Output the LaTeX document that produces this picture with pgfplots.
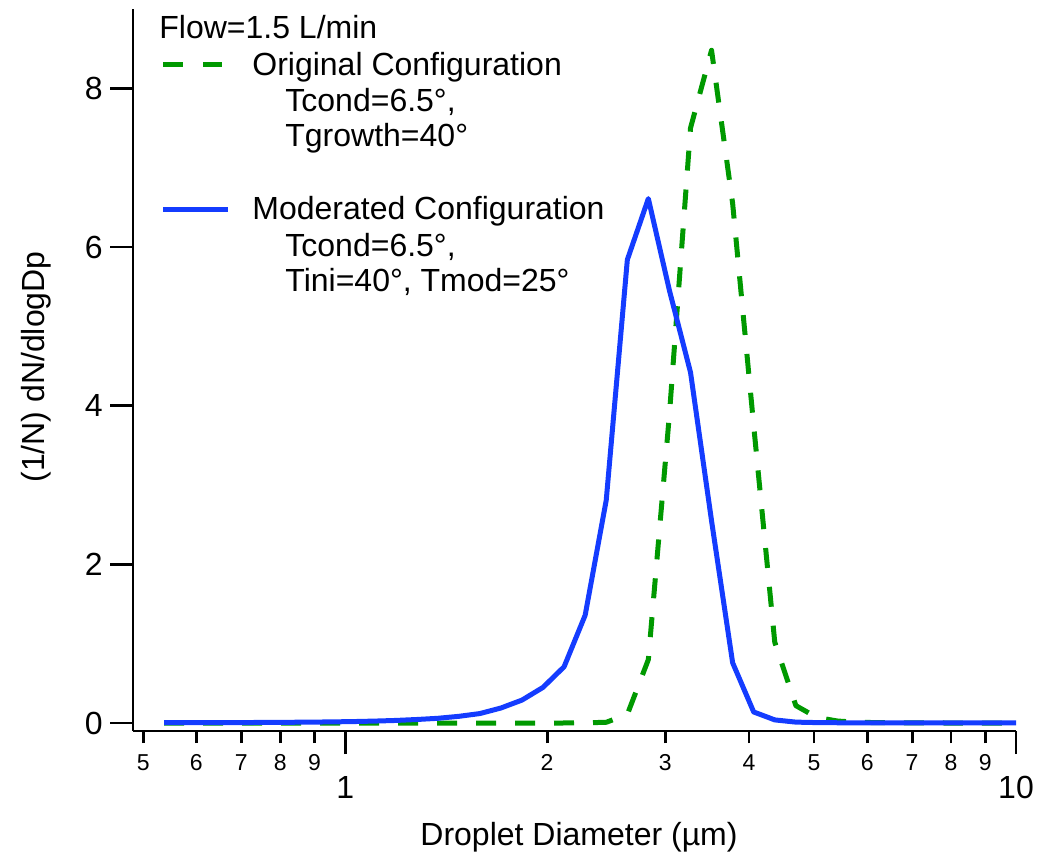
\documentclass[border=0pt]{standalone}
\usepackage{fontspec}
\setmainfont{Liberation Sans}
\usepackage{pgfplots}
\pgfplotsset{compat=1.18}
\definecolor{myblue}{RGB}{20,60,255}
\definecolor{mygreen}{RGB}{0,153,0}
\newcommand{\fsL}{\fontsize{16pt}{19pt}\selectfont}
\newcommand{\fsS}{\fontsize{11.5pt}{13pt}\selectfont}
\begin{document}
\begin{tikzpicture}
\useasboundingbox (-66.5pt,-60.5pt) rectangle (454.5pt,365.5pt);
\begin{axis}[
  at={(0pt,0pt)}, anchor=south west,
  scale only axis, width=441.5pt, height=361pt,
  xmode=log, xmin=0.4827, xmax=10, ymin=-0.1, ymax=9,
  axis x line=bottom, axis y line=left,
  axis line style={-, line width=1.4pt},
  tick style={line width=1.4pt, black},
  tick align=outside,
  major tick length=11.5pt, minor tick length=6pt,
  xtick={1,10}, xticklabels={1,10},
  minor xtick={},
  extra x ticks={0.5,0.6,0.7,0.8,0.9,2,3,4,5,6,7,8,9},
  extra x tick labels={5,6,7,8,9,2,3,4,5,6,7,8,9},
  extra x tick style={major tick length=6pt, xticklabel style={font=\fsS, yshift=5.5pt}},
  xticklabel style={font=\fsL, inner sep=0pt, anchor=north, yshift=-11pt},
  ytick={0,2,4,6,8}, yticklabels={0,2,4,6,8},
  yticklabel style={font=\fsL, inner sep=0pt, anchor=east, xshift=-3.5pt},
  clip=false,
]
\addplot[mygreen, line width=2.5pt, dash pattern=on 10pt off 9.5pt, line join=round] coordinates {
(0.5369,0) (0.5769,0) (0.6203,0) (0.6668,0) (0.7168,0) (0.7706,0) (0.8284,0)
(0.8905,0) (0.9572,0) (1.029,0) (1.106,0) (1.189,0) (1.278,0) (1.374,0)
(1.477,0) (1.588,0) (1.707,0) (1.835,0) (1.972,0) (2.120,0.001) (2.279,0.003)
(2.450,0.01) (2.634,0.11) (2.831,0.80) (3.044,3.9) (3.272,7.5) (3.517,8.48)
(3.781,6.55) (4.064,3.75) (4.369,1.02) (4.697,0.22) (5.049,0.07) (5.428,0.025)
(5.834,0.01) (6.272,0.005) (6.742,0.003) (7.248,0.002) (7.791,0.001) (8.375,0)
(9.003,0) (9.678,0) (10,0)
};
\addplot[myblue, line width=2.5pt, line join=round] coordinates {
(0.5369,0.005) (0.5769,0.005) (0.6203,0.006) (0.6668,0.006) (0.7168,0.007)
(0.7706,0.008) (0.8284,0.010) (0.8905,0.012) (0.9572,0.015) (1.029,0.019)
(1.106,0.025) (1.189,0.033) (1.278,0.045) (1.374,0.060) (1.477,0.085)
(1.588,0.12) (1.707,0.19) (1.835,0.29) (1.972,0.45) (2.120,0.71) (2.279,1.36)
(2.450,2.81) (2.634,5.84) (2.831,6.61) (3.044,5.45) (3.272,4.42) (3.517,2.55)
(3.781,0.76) (4.064,0.14) (4.369,0.04) (4.697,0.012) (5.049,0.006) (5.428,0.004)
(5.834,0.003) (6.272,0.003) (6.742,0.003) (7.248,0.003) (7.791,0.003)
(8.375,0.003) (9.003,0.003) (9.678,0.003) (10,0.003)
};
\end{axis}
% axis labels
\node[font=\fsL, anchor=base, inner sep=0pt] at (223pt,-57pt) {Droplet Diameter (µm)};
\node[font=\fsL, rotate=90, anchor=center, inner sep=0pt] at (-48.5pt,182pt) {(1/N) dN/dlogDp};
% legend
\node[font=\fsL, anchor=base west, inner sep=0pt] at (13pt,346pt) {Flow=1.5 L/min};
\draw[mygreen, line width=2.5pt, dash pattern=on 10pt off 10pt] (15pt,333pt) -- (44.5pt,333pt);
\node[font=\fsL, anchor=base west, inner sep=0pt] at (59.5pt,327.5pt) {Original Configuration};
\node[font=\fsL, anchor=base west, inner sep=0pt] at (76pt,309.5pt) {Tcond=6.5°,};
\node[font=\fsL, anchor=base west, inner sep=0pt] at (76pt,292pt) {Tgrowth=40°};
\draw[myblue, line width=2.5pt] (15pt,260.5pt) -- (47.5pt,260.5pt);
\node[font=\fsL, anchor=base west, inner sep=0pt] at (59.5pt,255.5pt) {Moderated Configuration};
\node[font=\fsL, anchor=base west, inner sep=0pt] at (76pt,237pt) {Tcond=6.5°,};
\node[font=\fsL, anchor=base west, inner sep=0pt] at (76pt,219.5pt) {Tini=40°, Tmod=25°};
\end{tikzpicture}
\end{document}
